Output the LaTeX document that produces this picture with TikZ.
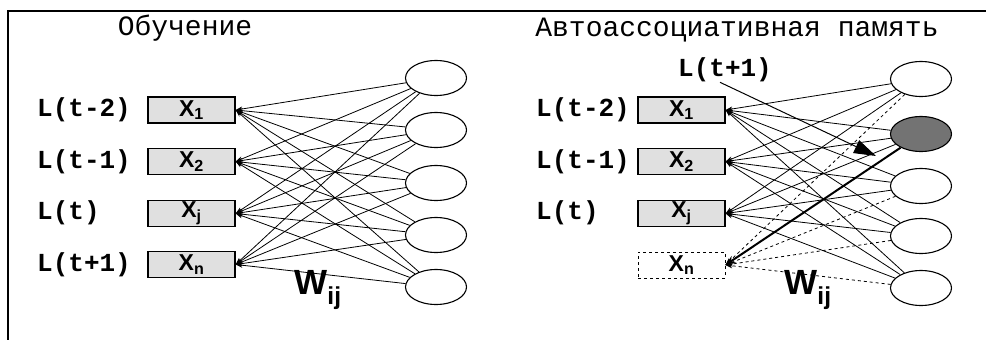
\documentclass[tikz,border=0pt]{standalone}
\usepackage{fontspec}
\setmainfont{Liberation Serif}
\newfontfamily\monof{Liberation Mono}
\newfontfamily\sansf{Liberation Sans}
\usetikzlibrary{arrows.meta,patterns,shapes.geometric}
\begin{document}
\begin{tikzpicture}[x=1pt,y=-1pt,
 inbox/.style={draw,line width=1.3pt,minimum width=87pt,minimum height=26pt,fill=black!12,inner sep=0pt,font=\sansf\bfseries\fontsize{23}{23}\selectfont},
 neuron/.style={draw,line width=1.1pt,ellipse,minimum width=61pt,minimum height=35pt,inner sep=0pt},
 lab/.style={anchor=west,font=\monof\bfseries\fontsize{26}{26}\selectfont,inner sep=0pt},
 ttl/.style={font=\monof\fontsize{28}{28}\selectfont,inner sep=0pt},
 wlab/.style={font=\sansf\bfseries\fontsize{35}{35}\selectfont,inner sep=0pt},
 wire/.style={line width=0.8pt,-{Stealth[length=7pt,width=5pt]}},
]
\useasboundingbox (0,0) rectangle (986,340);
\draw[line width=2pt] (8,340) -- (8,11) -- (986,11);

% ---------- left panel ----------
\node[ttl] (t1) at (185,28) {Обучение};
\node[lab] (la1) at (37,110) {L(t-2)};
\node[lab] (la2) at (37,162) {L(t-1)};
\node[lab] (la3) at (37,213) {L(t)};
\node[lab] (la4) at (37,265) {L(t+1)};
\node[inbox] (a1) at (191.5,110) {X\textsubscript{1}};
\node[inbox] (a2) at (191.5,161.5) {X\textsubscript{2}};
\node[inbox] (a3) at (191.5,213.5) {X\textsubscript{j}};
\node[inbox] (a4) at (191.5,264.5) {X\textsubscript{n}};
\node[neuron] (p1) at (436,78) {};
\node[neuron] (p2) at (436,130) {};
\node[neuron] (p3) at (436,183) {};
\node[neuron] (p4) at (436,235) {};
\node[neuron] (p5) at (436,287) {};
\foreach \b in {1,...,4}
  \foreach \e in {1,...,5}
    \draw[wire] (p\e) -- (a\b.east);
\node[wlab] (w1) at (318,290) {W\textsubscript{ij}};

% ---------- right panel ----------
\node[ttl] (t2) at (737,30) {Автоассоциативная память};
\node[lab] (lb1) at (536,110) {L(t-2)};
\node[lab] (lb2) at (536,162) {L(t-1)};
\node[lab] (lb3) at (536,213) {L(t)};
\node[lab] (lt) at (678,70) {L(t+1)};
\node[inbox] (b1) at (681.5,110) {X\textsubscript{1}};
\node[inbox] (b2) at (681.5,161.5) {X\textsubscript{2}};
\node[inbox] (b3) at (681.5,213.5) {X\textsubscript{j}};
\node[inbox,fill=none,dashed,line width=0.9pt] (b4) at (681.5,265) {X\textsubscript{n}};
\node[neuron] (q1) at (921,79) {};
\node[neuron,fill=black!55] (q2) at (921,134) {};
\node[neuron] (q3) at (921,186) {};
\node[neuron] (q4) at (921,236) {};
\node[neuron] (q5) at (921,288) {};
\foreach \b in {1,...,3}
  \foreach \e in {1,...,5}
    \draw[wire] (q\e) -- (b\b.east);
\foreach \e in {1,3,4,5}
  \draw[wire,dashed] (q\e) -- (b4.east);
\draw[line width=2pt,-{Stealth[length=10pt,width=8pt]}] (q2) -- (b4.east);
\coordinate (tip) at (876,156);
\draw[line width=1pt,-{Triangle[length=22pt,width=14pt]}] ([xshift=-5pt]lt.south) -- (tip);
\node[wlab] (w2) at (808,290) {W\textsubscript{ij}};
\end{tikzpicture}
\end{document}
